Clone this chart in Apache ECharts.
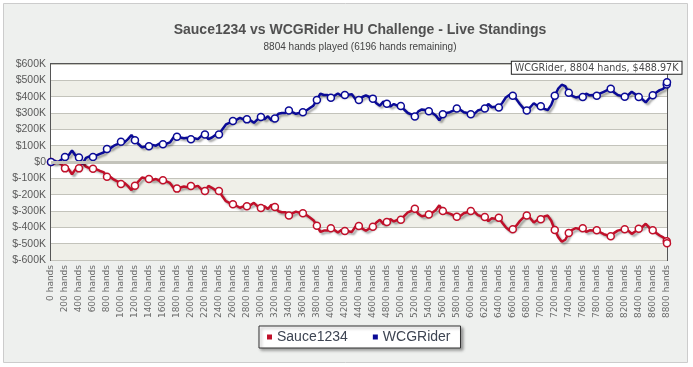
<!DOCTYPE html>
<html>
<head>
<meta charset="utf-8">
<script src="https://cdn.jsdelivr.net/npm/echarts@6/dist/echarts.min.js"></script>
<style>
html,body{margin:0;padding:0;background:#ffffff;}
#chart{width:693px;height:367px;}
</style>
</head>
<body>
<div id="chart"></div>
<script>
// Hands played at each sample point
const hands = [
  0, 50, 100, 150, 200, 250, 300, 350, 400, 450,
  500, 550, 600, 650, 700, 750, 800, 850, 900, 950,
  1000, 1050, 1100, 1150, 1200, 1250, 1300, 1350, 1400, 1450,
  1500, 1550, 1600, 1650, 1700, 1750, 1800, 1850, 1900, 1950,
  2000, 2050, 2100, 2150, 2200, 2250, 2300, 2350, 2400, 2450,
  2500, 2550, 2600, 2650, 2700, 2750, 2800, 2850, 2900, 2950,
  3000, 3050, 3100, 3150, 3200, 3250, 3300, 3350, 3400, 3450,
  3500, 3550, 3600, 3650, 3700, 3750, 3800, 3850, 3900, 3950,
  4000, 4050, 4100, 4150, 4200, 4250, 4300, 4350, 4400, 4450,
  4500, 4550, 4600, 4650, 4700, 4750, 4800, 4850, 4900, 4950,
  5000, 5050, 5100, 5150, 5200, 5250, 5300, 5350, 5400, 5450,
  5500, 5550, 5600, 5650, 5700, 5750, 5800, 5850, 5900, 5950,
  6000, 6050, 6100, 6150, 6200, 6250, 6300, 6350, 6400, 6450,
  6500, 6550, 6600, 6650, 6700, 6750, 6800, 6850, 6900, 6950,
  7000, 7050, 7100, 7150, 7200, 7250, 7300, 7350, 7400, 7450,
  7500, 7550, 7600, 7650, 7700, 7750, 7800, 7850, 7900, 7950,
  8000, 8050, 8100, 8150, 8200, 8250, 8300, 8350, 8400, 8450,
  8500, 8550, 8600, 8650, 8700, 8750, 8800, 8804
];

// Winnings in $K
const wcgRider = [
  0, 8, -2, 15, 31, 40, 70, 40, 27, -12,
  25, 35, 31, 40, 50, 58, 80, 85, 100, 110,
  124, 120, 140, 165, 133, 110, 90, 95, 96, 105,
  100, 112, 108, 112, 120, 150, 155, 150, 145, 148,
  139, 145, 140, 160, 169, 140, 150, 165, 169, 200,
  230, 240, 251, 258, 270, 262, 261, 255, 240, 260,
  276, 262, 280, 255, 267, 295, 300, 300, 316, 305,
  295, 300, 304, 315, 330, 345, 380, 418, 410, 410,
  394, 405, 420, 405, 410, 412, 415, 385, 380, 398,
  408, 398, 388, 360, 345, 370, 357, 340, 355, 345,
  343, 320, 300, 292, 278, 310, 322, 318, 310, 300,
  285, 255, 292, 300, 305, 315, 327, 320, 305, 300,
  292, 295, 315, 322, 327, 355, 335, 338, 333, 362,
  395, 410, 406, 385, 355, 330, 316, 335, 360, 345,
  341, 325, 318, 350, 406, 450, 473, 465, 424, 405,
  395, 400, 398, 418, 408, 410, 406, 420, 430, 440,
  449, 425, 410, 405, 400, 410, 430, 415, 398, 385,
  365, 390, 408, 425, 440, 448, 475, 488.97
];

const sauce1234 = [
  0, -8, 2, -15, -39, -42, -75, -45, -39, -4,
  -28, -38, -41, -45, -55, -62, -90, -92, -108, -118,
  -135, -128, -148, -172, -145, -118, -95, -100, -104, -110,
  -104, -116, -112, -118, -128, -158, -163, -156, -150, -154,
  -147, -152, -146, -168, -178, -146, -158, -172, -178, -210,
  -240, -250, -259, -268, -280, -272, -271, -264, -250, -270,
  -282, -270, -288, -262, -276, -302, -308, -308, -327, -315,
  -304, -310, -314, -325, -340, -356, -390, -428, -420, -420,
  -406, -416, -432, -416, -422, -424, -428, -396, -392, -408,
  -420, -408, -396, -370, -354, -380, -367, -350, -364, -355,
  -353, -330, -308, -300, -286, -318, -332, -328, -322, -310,
  -294, -265, -300, -310, -316, -326, -335, -330, -314, -308,
  -300, -304, -325, -332, -337, -362, -345, -348, -341, -372,
  -400, -418, -412, -390, -362, -340, -327, -344, -370, -355,
  -351, -334, -328, -360, -416, -460, -488, -476, -435, -415,
  -405, -410, -406, -428, -418, -420, -418, -430, -442, -448,
  -455, -434, -420, -415, -412, -420, -440, -425, -408, -398,
  -378, -402, -418, -434, -450, -462, -485, -498
];

const seriesNames = ['Sauce1234', 'WCGRider'];
const seriesColors = ['#c0102a', '#0a0a96'];
const titleText = 'Sauce1234 vs WCGRider HU Challenge - Live Standings';
const subtitleText = '8804 hands played (6196 hands remaining)';
const markerEvery = 200;
const lastHand = 8804;

const chart = echarts.init(document.getElementById('chart'), null, {renderer: 'canvas'});

function pairs(vals) { return hands.map((h, i) => [h, vals[i]]); }
function markerSymbol(v) { return (v[0] % markerEvery === 0 || v[0] === lastHand) ? 'circle' : 'none'; }

const lastIdx = hands.length - 1;

function lineSeries(name, vals, color, extra) {
  return Object.assign({
    name: name,
    type: 'line',
    data: pairs(vals),
    showSymbol: true,
    showAllSymbol: true,
    symbol: markerSymbol,
    symbolSize: 7,
    itemStyle: {color: '#ffffff', borderColor: color, borderWidth: 1.5},
    lineStyle: {color: color, width: 2.5, shadowColor: 'rgba(0,0,0,0.35)', shadowBlur: 2, shadowOffsetX: 2, shadowOffsetY: 2},
    emphasis: {disabled: true},
    animation: false,
    z: 3
  }, extra || {});
}

chart.setOption({
  animation: false,
  backgroundColor: 'transparent',
  textStyle: {fontFamily: '"Liberation Sans", Arial, sans-serif'},
  graphic: [{
    type: 'rect',
    z: -100,
    shape: {x: 3.5, y: 3.5, width: 684, height: 359},
    style: {fill: '#eef0ee', stroke: '#cccccc', lineWidth: 1}
  }],
  title: [{
    text: titleText,
    left: 360,
    textAlign: 'center',
    top: 23,
    padding: 0,
    textStyle: {fontSize: 14, fontWeight: 'bold', color: '#505050', fontFamily: '"Liberation Sans", Arial, sans-serif'}
  }, {
    text: subtitleText,
    left: 360,
    textAlign: 'center',
    top: 42,
    padding: 0,
    textStyle: {fontSize: 10, fontWeight: 'normal', color: '#444444', fontFamily: '"Liberation Sans", Arial, sans-serif'}
  }],
  legend: {
    data: seriesNames.map((n, i) => ({name: n, itemStyle: {color: seriesColors[i], borderWidth: 0}})),
    left: 259,
    top: 326,
    padding: [4, 10, 4, 8],
    itemGap: 25,
    itemWidth: 5,
    itemHeight: 5,
    icon: 'rect',
    backgroundColor: '#ffffff',
    borderColor: '#333333',
    borderWidth: 1,
    shadowColor: 'rgba(0,0,0,0.35)',
    shadowBlur: 3,
    shadowOffsetX: 2,
    shadowOffsetY: 2,
    textStyle: {fontSize: 14, color: '#3d4452', fontFamily: '"Liberation Sans", Arial, sans-serif'},
    selectedMode: false
  },
  grid: {
    left: 51, right: 26, top: 64, bottom: 107,
    show: true,
    borderColor: '#555555',
    borderWidth: 2,
    backgroundColor: 'transparent',
    containLabel: false
  },
  xAxis: {
    type: 'value',
    min: 0,
    max: lastHand,
    interval: markerEvery,
    axisLine: {show: false},
    axisTick: {show: false},
    splitLine: {show: false},
    axisLabel: {
      rotate: 90,
      fontSize: 9,
      color: '#6a6a6a',
      margin: 5,
      fontFamily: '"DejaVu Sans", Verdana, sans-serif',
      showMinLabel: true,
      showMaxLabel: true,
      formatter: function (v) { return v % markerEvery === 0 ? v + ' hands' : ''; }
    }
  },
  yAxis: {
    type: 'value',
    min: -600,
    max: 600,
    interval: 100,
    axisLine: {show: false},
    axisTick: {show: false},
    splitLine: {show: true, lineStyle: {color: '#c3c3bb', width: 1}},
    splitArea: {show: true, areaStyle: {color: ['#efefe8', '#ffffff']}},
    axisLabel: {
      fontSize: 10.5,
      color: '#5a5a5a',
      margin: 5,
      formatter: function (v) { return v === 0 ? '$0' : '$' + v + 'K'; }
    }
  },
  series: [
    {
      type: 'line',
      data: [],
      silent: true,
      z: 1,
      markLine: {
        silent: true,
        symbol: 'none',
        animation: false,
        label: {show: false},
        lineStyle: {color: '#c3c3bb', width: 3, type: 'solid'},
        data: [{yAxis: 0}]
      }
    },
    lineSeries(seriesNames[0], sauce1234, seriesColors[0]),
    lineSeries(seriesNames[1], wcgRider, seriesColors[1], {
      markPoint: {
        symbol: 'circle',
        symbolSize: 1,
        itemStyle: {color: 'transparent'},
        silent: true,
        animation: false,
        data: [{coord: [hands[lastIdx], wcgRider[lastIdx]]}],
        label: {
          show: true,
          position: [15, -8],
          align: 'right',
          verticalAlign: 'bottom',
          formatter: seriesNames[1] + ', ' + hands[lastIdx] + ' hands, $' + wcgRider[lastIdx].toFixed(2) + 'K',
          fontSize: 9.6,
          fontFamily: '"DejaVu Sans", Verdana, sans-serif',
          color: '#4a4a4a',
          backgroundColor: '#ffffff',
          borderColor: '#222222',
          borderWidth: 1,
          padding: [1, 3, 0, 3],
          lineHeight: 11
        }
      }
    })
  ]
});
</script>
</body>
</html>
